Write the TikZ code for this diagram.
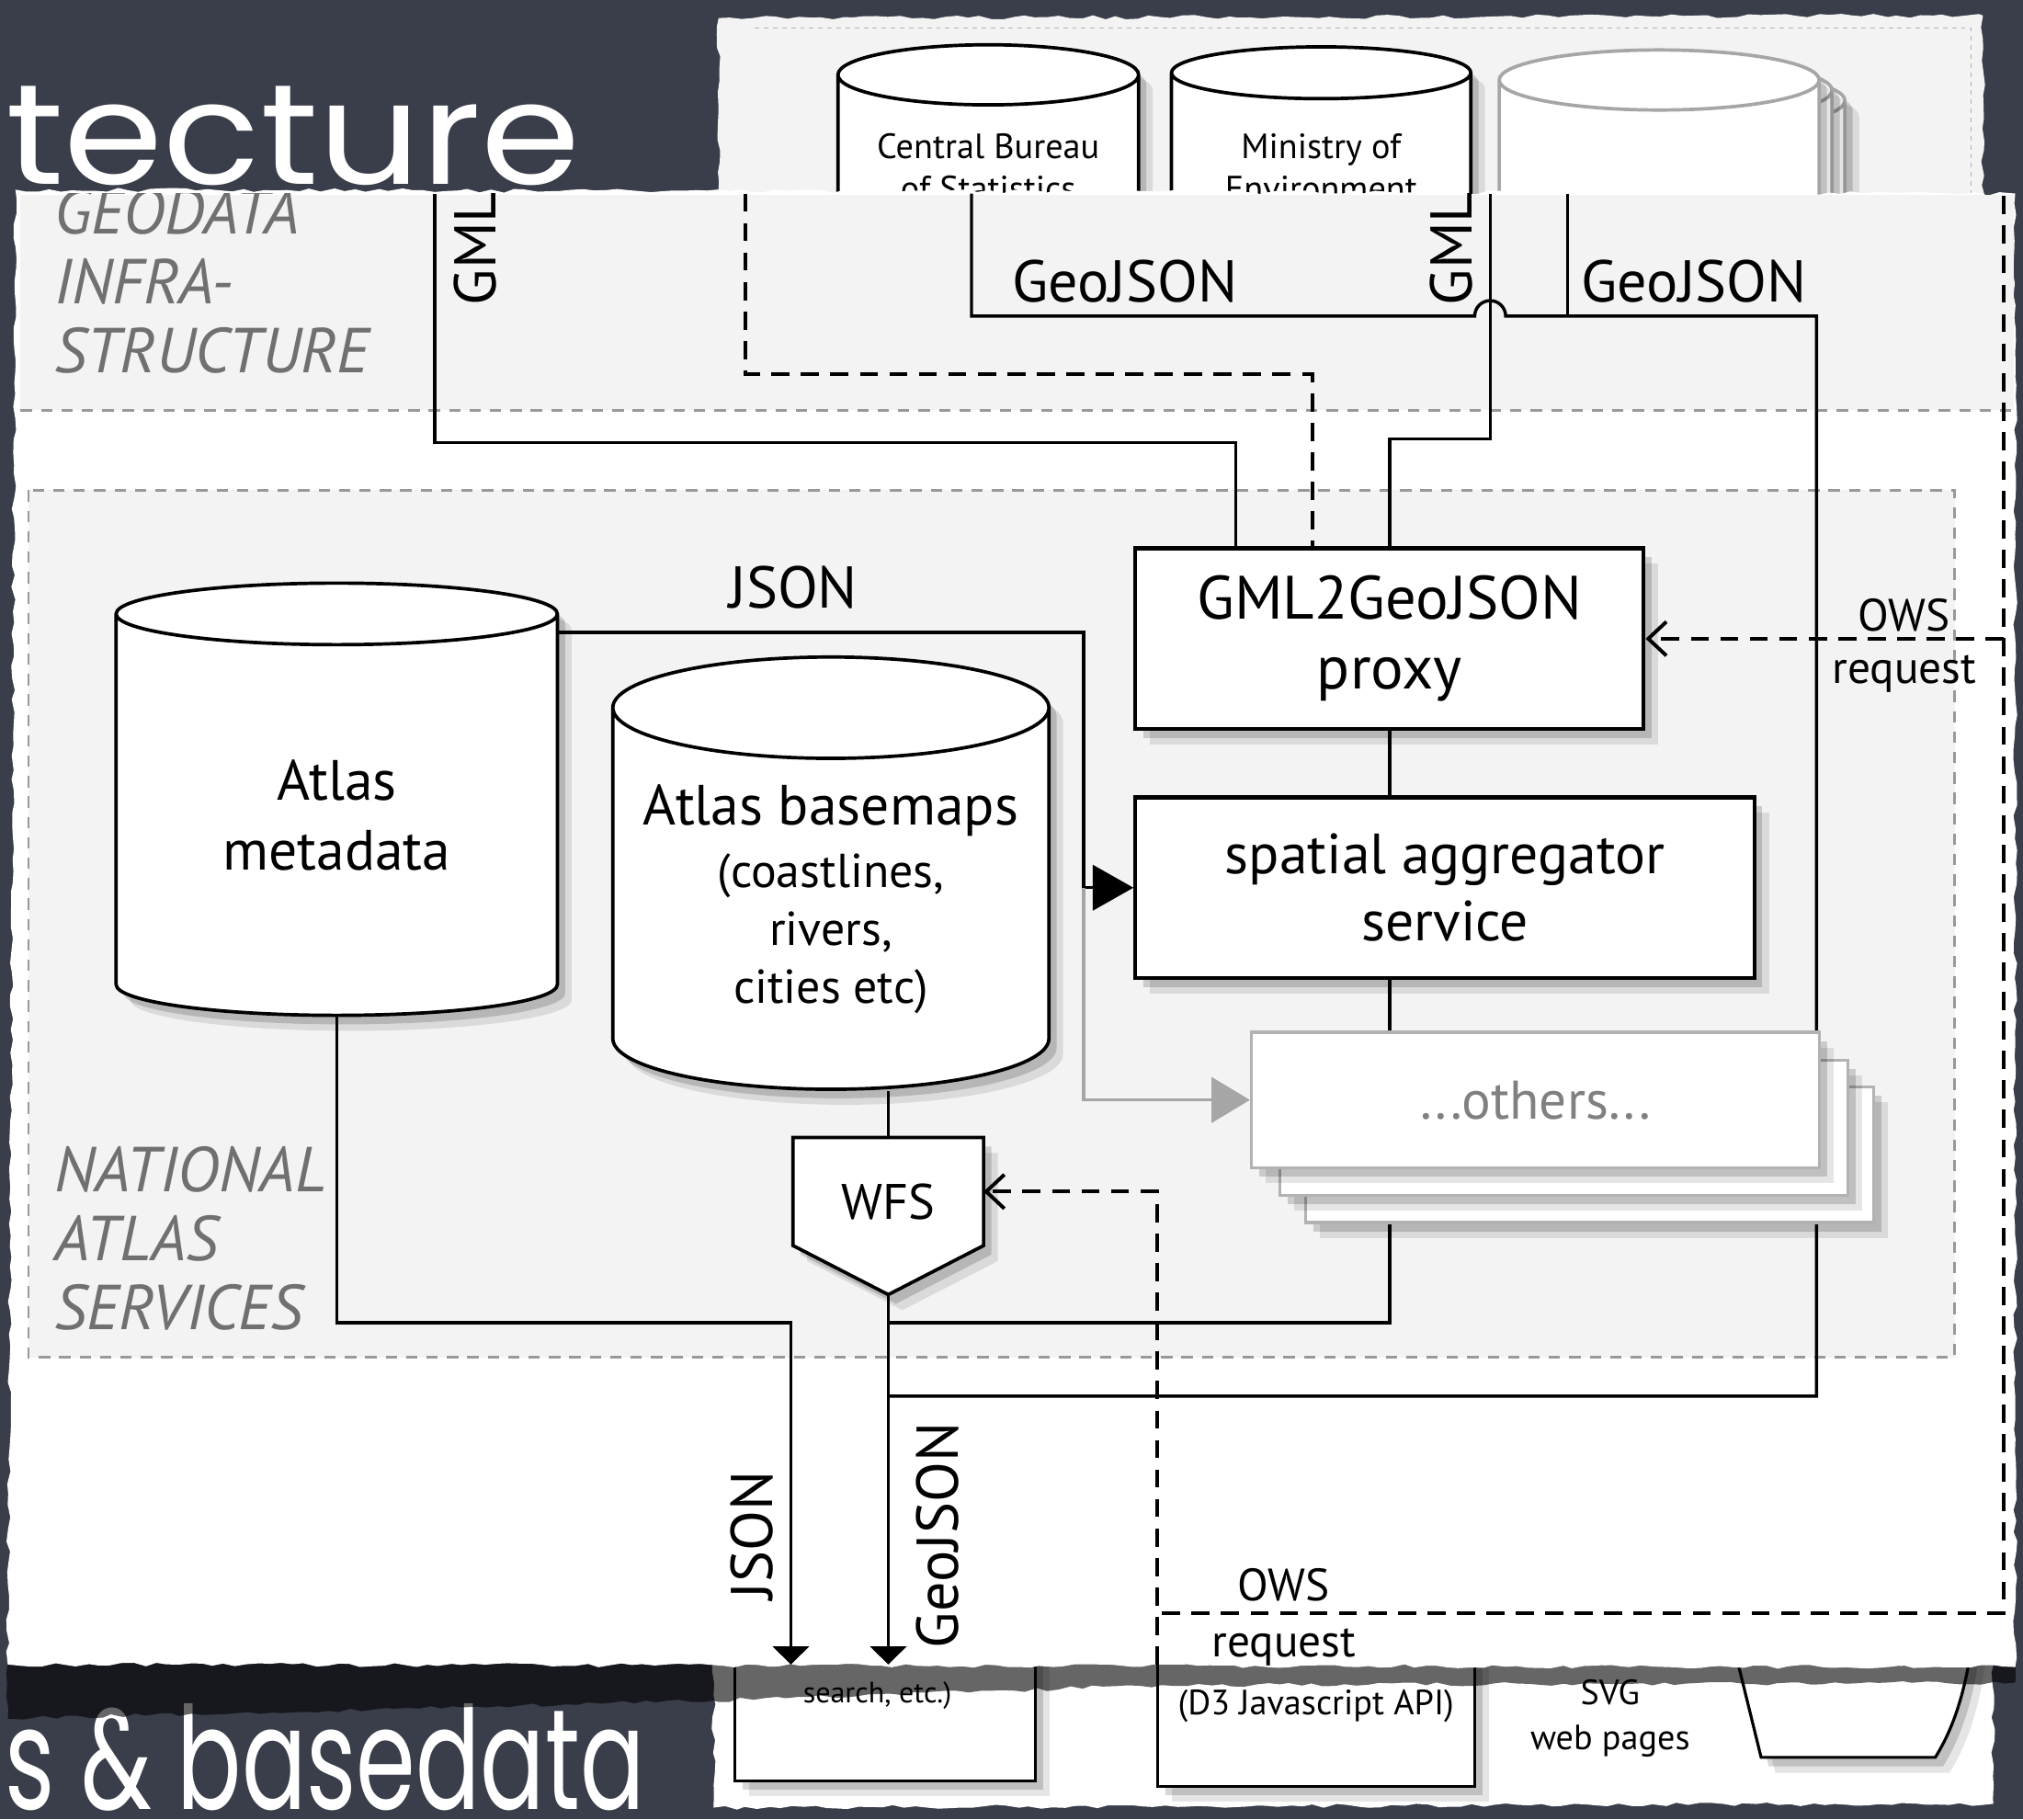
\documentclass[tikz,border=0pt]{standalone}
\usepackage{fontspec}
\setmainfont{PT Sans}
\newfontfamily\chalkfont{Poppins}
\usetikzlibrary{positioning,calc,shapes.geometric,shadows,arrows.meta,decorations.pathmorphing}
\definecolor{slate}{RGB}{58,62,74}
\definecolor{zonegray}{RGB}{243,243,243}
\definecolor{labelgray}{RGB}{112,112,112}
\pgfdeclarelayer{paper}
\pgfdeclarelayer{wires}
\pgfsetlayers{paper,wires,main}

\begin{document}
\begin{tikzpicture}[x=0.2mm,y=-0.2mm,
  wire/.style={line width=1.4pt},
  owsline/.style={line width=1.6pt,dash pattern=on 8pt off 5pt},
  zone/.style={fill=zonegray,draw=gray!80,line width=1pt,dash pattern=on 5pt off 4pt},
  zonelabel/.style={font=\fontsize{28}{30.5}\selectfont\itshape,text=labelgray,align=left,anchor=west,inner sep=0pt},
  softshadow/.style={drop shadow={shadow xshift=2.2mm,shadow yshift=-2.4mm,fill=black,opacity=0.10},
    drop shadow={shadow xshift=1.2mm,shadow yshift=-1.4mm,fill=black,opacity=0.16}},
  box/.style={draw,fill=white,line width=1.7pt,align=center,inner sep=0pt,softshadow},
  db/.style={cylinder,shape border rotate=90,aspect=0.27,draw,fill=white,line width=1.5pt,align=center,inner sep=0pt,softshadow},
  ghostbox/.style={draw=gray!60,fill=white,line width=1.3pt,inner sep=0pt,softshadow},
  lbl/.style={font=\fontsize{26}{31}\selectfont,inner sep=0pt},
  owstext/.style={font=\fontsize{20}{24}\selectfont,inner sep=0pt},
  srctext/.style={font=\fontsize{15.5}{18.7}\selectfont},
  torn/.style={decorate,decoration={random steps,segment length=5pt,amplitude=0.9pt}},
  title/.style={font=\chalkfont\fontsize{63}{63}\selectfont,text=white,inner sep=0pt}]

\useasboundingbox (0,0) rectangle (1568,1410);
\pgfmathsetseed{7}

\begin{pgfonlayer}{paper}
  \fill[slate] (0,0) rectangle (1568,1410);
  \node[title,anchor=base east,xscale=1.12] (titletop) at (450,143) {tecture};
  \node[title,anchor=base east,xscale=0.67] (titlebot) at (500,1402) {s \& basedata};

  % sources behind the sheet
  \fill[zonegray,torn] (557,14) -- (1537,12) -- (1537,300) -- (557,300) -- cycle;
  \draw[gray!60,dash pattern=on 2pt off 2pt] (585,22) -- (1528,22) -- (1528,300);
  \node[db,draw=gray!70,srctext,minimum width=49.6mm,minimum height=33.2mm] (more3) at (1306,150) {\phantom{Central Bureau}\\\phantom{of Statistics}};
  \node[db,draw=gray!70,srctext,minimum width=49.6mm,minimum height=33.2mm] (more2) at (1296,142) {\phantom{Central Bureau}\\\phantom{of Statistics}};
  \node[db,draw=gray!70,srctext,minimum width=49.6mm,minimum height=33.2mm] (more) at (1286,134) {\phantom{Central Bureau}\\\phantom{of Statistics}};
  \node[db,srctext,minimum width=46.6mm,minimum height=33.2mm] (cbs) at (766,130) {Central Bureau\\of Statistics};
  \node[db,srctext,minimum width=46.4mm,minimum height=33.2mm] (env) at (1024,130) {Ministry of\\Environment};

  % clients below the sheet
  \fill[white,torn] (553,1200) -- (1545,1200) -- (1545,1398) -- (553,1401) -- cycle;
  \node[box,line width=1.3pt,minimum width=46.6mm,minimum height=36mm] (search) at (686,1290) {};
  \node[box,line width=1.3pt,minimum width=49.2mm,minimum height=37mm] (d3) at (1020,1292) {};
  \node[font=\fontsize{13}{15}\selectfont] (searchtxt) at (680,1314) {search, etc.)};
  \node[font=\fontsize{15.5}{18}\selectfont] (d3txt) at (1020,1322) {(D3 Javascript API)};
  \node[font=\fontsize{15.5}{20}\selectfont,align=center] (svg) at (1248,1332) {SVG\\web pages};
  \draw[line width=1.3pt,fill=white,softshadow] (1335,1240) -- (1365,1362) -- (1500,1362)
    .. controls (1520,1330) and (1528,1290) .. (1532,1240);

  % the sheet
  \fill[black,opacity=0.6,torn] (6,1288) -- (1562,1290) -- (1562,1304) -- (900,1306) -- (553,1318) -- (6,1332) -- cycle;
  \fill[white,torn] (12,147) -- (1562,150) -- (1562,1292) -- (6,1290) -- cycle;
  \fill[zonegray] (16,151) rectangle (1561,318);
  \draw[gray!80,line width=1pt,dash pattern=on 5pt off 4pt] (16,318) -- (1561,318);
  \draw[zone] (22,380) rectangle (1515,1052);
  \begin{scope}
    \clip (0,150) rectangle (700,400);
    \node[zonelabel] (geodata) at (42,218) {GEODATA\\INFRA-\\STRUCTURE};
  \end{scope}
  \node[zonelabel] (natatlas) at (42,960) {NATIONAL\\ATLAS\\SERVICES};
\end{pgfonlayer}

% services
\node[db,minimum width=68.4mm,minimum height=67mm,font=\fontsize{25}{31}\selectfont] (meta) at (261,632) {Atlas\\metadata};
\node[db,minimum width=67.6mm,minimum height=67mm,font=\fontsize{21}{25.5}\selectfont] (base) at (644,697)
  {{\fontsize{25}{25.5}\selectfont Atlas basemaps}\\[2pt](coastlines,\\rivers,\\cities etc)};
\node[draw=none,minimum width=29.4mm,minimum height=16.6mm,inner sep=0pt] (wfs) at (688.5,923.5) {};
\coordinate (wfstip) at ($(wfs.south)+(0,38)$);
\draw[line width=1.5pt,fill=white,softshadow] (wfs.north west) -- (wfs.north east) -- (wfs.south east)
  -- (wfstip) -- (wfs.south west) -- cycle;
\node[font=\fontsize{22}{26}\selectfont] (wfstxt) at ($(wfs)+(0,8)$) {WFS};
\node[box,minimum width=78.8mm,minimum height=28mm,font=\fontsize{27}{31}\selectfont] (proxy) at (1077,495) {GML2GeoJSON\\proxy};
\node[box,minimum width=96mm,minimum height=28mm,font=\fontsize{25}{29.5}\selectfont] (aggr) at (1120,688) {spatial aggregator\\service};
\node[ghostbox,minimum width=88mm,minimum height=21mm] (others3) at (1232,895) {};
\node[ghostbox,minimum width=88mm,minimum height=21mm] (others2) at (1212,874) {};
\node[ghostbox,minimum width=88mm,minimum height=21mm,font=\fontsize{24}{28}\selectfont,text=gray] (others) at (1190,852.5) {...others...};

% labels
\node[lbl] (jsonlbl) at (615,455) {JSON};
\node[lbl] (geojsonA) at (872,218) {GeoJSON};
\node[lbl] (geojsonB) at (1313,218) {GeoJSON};
\begin{scope}
  \clip (0,150) rectangle (1568,400);
  \node[lbl,rotate=90,anchor=west] (gmlA) at (368,237) {GML};
  \node[lbl,rotate=90,anchor=west] (gmlB) at (1125,237) {GML};
\end{scope}
\node[lbl,rotate=90] (jsonout) at (583,1190) {JSON};
\node[lbl,rotate=90] (geojsonout) at (727,1190) {GeoJSON};
\node[owstext] (owsA) at (1476,477) {OWS};
\node[owstext] (reqA) at (1476,522) {request};
\node[owstext] (owsB) at (995,1228) {OWS};
\node[owstext] (reqB) at (995,1277) {request};

\begin{pgfonlayer}{wires}
  \draw[wire] (337,150) |- (958,343) -- (958,0 |- proxy.north);
  \draw[owsline] (578,150) |- (1017,290) -- (1017,0 |- proxy.north);
  \draw[wire] (1155,150) |- (proxy.north |- 0,340) -- (proxy.north);
  \draw[wire] (753,150) |- (1143,245) arc[start angle=180,end angle=0,radius=2.4mm]
    -- (1408,245) |- (wfstip |- 0,1082);
  \draw[wire] (1215,150) -- (1215,245);
  \draw[wire,-{Triangle[length=18pt,width=20pt]}] ($(meta.east)+(0,-142)$) -| (840,0 |- aggr.west) -- (aggr.west);
  \draw[wire,gray!70,-{Triangle[length=17pt,width=20pt]}] (840,0 |- aggr.west) |- (others.west);
  \draw[wire] (proxy.south) -- (proxy.south |- aggr.north);
  \draw[wire] (proxy.south |- aggr.south) |- (wfstip |- 0,1025);
  \draw[wire] (wfs.north) -- (wfs.north |- base.south);
  \draw[wire,-{Triangle[length=8pt,width=16pt]}] (meta.south) |- (613,1025) -- (613,1290);
  \draw[wire,-{Triangle[length=8pt,width=16pt]}] (wfstip) -- (wfstip |- 0,1290);
  % OWS requests
  \draw[owsline] (1553,152) |- (897,1250);
  \draw[owsline,-{Straight Barb[length=8pt,width=15pt]}] (1553,0 |- proxy.east) -- (proxy.east);
  \draw[owsline,-{Straight Barb[length=8pt,width=15pt]}] (897,1290) |- (wfs.east);
\end{pgfonlayer}
\end{tikzpicture}
\end{document}
